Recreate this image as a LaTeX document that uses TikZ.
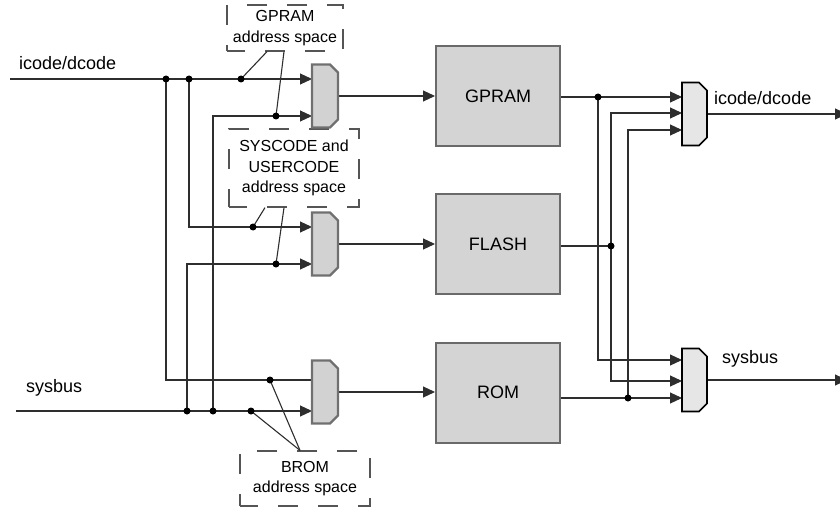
\documentclass[tikz,border=0pt]{standalone}
\usepackage{fontspec}
\setmainfont{Liberation Sans}
\usetikzlibrary{arrows.meta,calc}
\definecolor{boxfill}{HTML}{D4D4D4}
\definecolor{boxdraw}{HTML}{6A6A6A}
\definecolor{lmuxfill}{HTML}{D2D2D2}
\definecolor{lmuxdraw}{HTML}{707070}
\definecolor{rmuxfill}{HTML}{E6E6E6}
\definecolor{wirec}{HTML}{2E2E2E}
\definecolor{dashc}{HTML}{555555}
\newcommand\muxpath[2]{\draw[#2] (#1.north west) -- ([xshift=-8pt]#1.north east) -- ([yshift=-8pt]#1.north east) -- ([yshift=8pt]#1.south east) -- ([xshift=-8pt]#1.south east) -- (#1.south west) -- cycle;}
\begin{document}
\begin{tikzpicture}[x=1pt,y=-1pt,
  wire/.style={draw=wirec, line width=1.1pt},
  arr/.style={wire, -{Triangle[length=12pt,width=11pt]}},
  mem/.style={draw=boxdraw, fill=boxfill, line width=2pt, minimum width=124pt, minimum height=100pt, inner sep=0pt, font=\fontsize{18}{20}\selectfont},
  muxanchor/.style={minimum width=26pt, minimum height=63pt, inner sep=0pt, outer sep=0pt},
  lmux/.style={draw=lmuxdraw, fill=lmuxfill, line width=2.2pt, line join=miter},
  rmux/.style={draw=black, fill=rmuxfill, line width=1.6pt, line join=miter},
  jdot/.style={circle, fill=black, inner sep=0pt, minimum size=7pt},
  addr/.style={draw=dashc, dash pattern=on 20pt off 20pt, line width=1.2pt, fill=white, align=center, inner sep=0pt, font=\fontsize{16}{20.5}\selectfont},
  lbl/.style={anchor=west, inner sep=0pt, font=\fontsize{18}{20}\selectfont}]
\useasboundingbox (0,0) rectangle (840,508);

% memories
\node[mem] (gpram) at (498,96) {GPRAM};
\node[mem] (flash) at (498,244) {FLASH};
\node[mem] (rom) at (498,392.5) {ROM};

% mux placeholders
\node[muxanchor] (m1) at (325,96) {};
\node[muxanchor] (m2) at (325,244) {};
\node[muxanchor] (m3) at (325,392) {};
\node[muxanchor, minimum width=25pt] (m4) at (694.5,114) {};
\node[muxanchor, minimum width=25pt] (m5) at (694.5,380) {};

% address space boxes
\node[addr, minimum width=116pt, minimum height=46pt, dash phase=2pt] (gp) at (285,28) {GPRAM\\address space};
\node[addr, minimum width=130pt, minimum height=78pt, dash phase=2pt] (sc) at (294,168) {SYSCODE and\\USERCODE\\address space};
\node[addr, minimum width=130pt, minimum height=55pt, dash phase=2pt] (br) at (305,478.5) {BROM\\address space};

% bus labels
\node[lbl] (licode) at (19,63) {icode/dcode};
\node[lbl] (lsys) at (26,388) {sysbus};
\node[lbl] (ricode) at (714,98) {icode/dcode};
\node[lbl] (rsys) at (722,359) {sysbus};

% coordinates
\coordinate (in1) at (10,79);
\coordinate (in2) at (16,411);
\coordinate (j1) at (166,79);
\coordinate (j2) at (189,79);
\coordinate (j3) at (241,79);
\coordinate (j4) at (276,116);
\coordinate (j5) at (253,227);
\coordinate (j6) at (276,264);
\coordinate (j7) at (270,380);
\coordinate (s1) at (187,411);
\coordinate (s2) at (213,411);
\coordinate (s3) at (251,411);
\coordinate (r1) at (598,97);
\coordinate (r2) at (611,246);
\coordinate (r3) at (628,398);
\coordinate (y4b) at (0,113);
\coordinate (y4c) at (0,130);
\coordinate (y5a) at (0,360);
\coordinate (y5b) at (0,381);
\coordinate (o1) at (847,114);
\coordinate (o2) at (847,380);

% left wiring
\draw[arr] (in1) -- (in1 -| m1.west);
\draw[arr] (in2) -- (in2 -| m3.west);
\draw[wire] (j1) |- (j7 -| m3.west);
\draw[arr] (j2) |- (j5 -| m2.west);
\draw[arr] (s1) |- (j6 -| m2.west);
\draw[arr] (s2) |- (j4 -| m1.west);

% leaders
\draw[wire] ($(gp.south)+(-18,0)$) -- (j3);
\draw[wire] ($(gp.south)+(-1,0)$) -- (j4);
\draw[wire] ($(sc.south)+(-29,0)$) -- (j5);
\draw[wire] ($(sc.south)+(-10,0)$) -- (j6);
\draw[wire] ($(br.north)+(-5,0)$) -- (j7);
\draw[wire] ($(br.north)+(-5,0)$) -- (s3);

% mux to memories
\draw[arr] (m1.east) -- (m1.east -| gpram.west);
\draw[arr] (m2.east) -- (m2.east -| flash.west);
\draw[arr] (m3.east) -- (m3.east -| rom.west);

% right wiring
\draw[arr] (r1 -| gpram.east) -- (r1) -- (r1 -| m4.west);
\draw[arr] (r1) |- (y5a -| m5.west);
\draw[wire] (r2 -| flash.east) -- (r2);
\draw[arr] (r2) |- (y4b -| m4.west);
\draw[arr] (r2) |- (y5b -| m5.west);
\draw[arr] (r3 -| rom.east) -- (r3) -- (r3 -| m5.west);
\draw[arr] (r3) |- (y4c -| m4.west);

% outputs
\draw[arr] (m4.east) -- (m4.east -| o1);
\draw[arr] (m5.east) -- (m5.east -| o2);

% mux shapes
\muxpath{m1}{lmux}
\muxpath{m2}{lmux}
\muxpath{m3}{lmux}
\muxpath{m4}{rmux}
\muxpath{m5}{rmux}

% junction dots
\foreach \p in {j1,j2,j3,j4,j5,j6,j7,s1,s2,s3,r1,r2,r3}
  \node[jdot] (d\p) at (\p) {};
\end{tikzpicture}
\end{document}
